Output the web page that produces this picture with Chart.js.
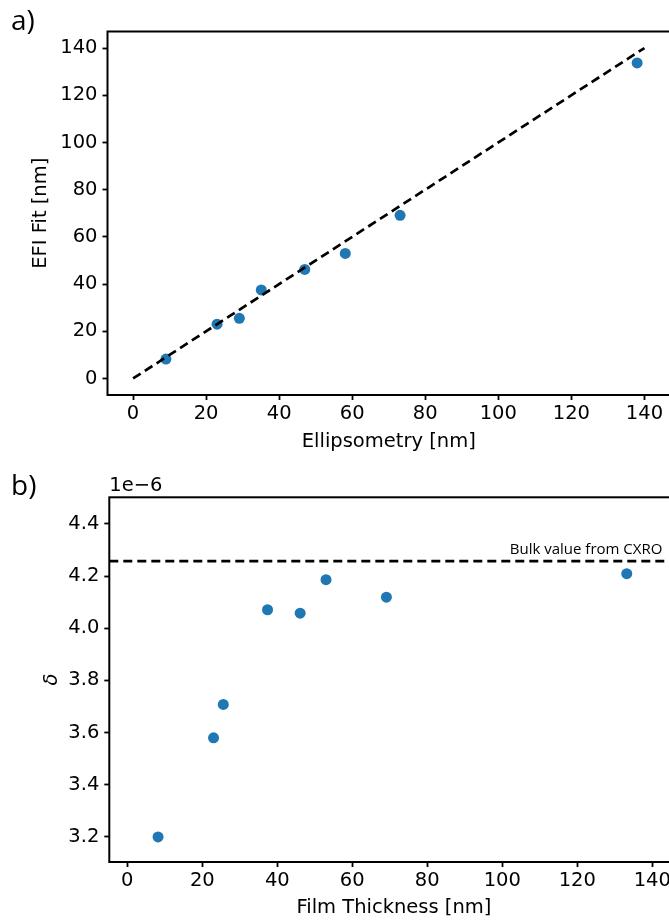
<!DOCTYPE html>
<html>
<head>
<meta charset="utf-8">
<script src="https://cdn.jsdelivr.net/npm/chart.js@4.4.1/dist/chart.umd.min.js"></script>
<style>
  html, body { margin: 0; padding: 0; background: #fff; overflow: hidden; }
  body { width: 669px; height: 923px; position: relative; }
  .panel { position: absolute; left: 0; width: 720px; }
  #wrapA { top: 0; height: 460px; }
  #wrapB { top: 460px; height: 463px; }
  .tag { position: absolute; left: 11px; font-family: "Open Sans", sans-serif; font-size: 28px; line-height: 1; color: #000; }
</style>
</head>
<body>
<div class="panel" id="wrapA"><canvas id="chartA" width="720" height="460"></canvas></div>
<div class="panel" id="wrapB"><canvas id="chartB" width="720" height="463"></canvas></div>
<div class="tag" style="top:5px">a)</div>
<div class="tag" style="top:470px">b)</div>
<script>
// a) thickness from ellipsometry vs EFI fit (nm)
const ellipsometry = [9.0, 23.0, 29.1, 35.1, 47.0, 58.1, 73.1, 138.0];
const efiFit = [8.2, 23.0, 25.5, 37.5, 46.2, 53.0, 69.1, 133.7];
const unityLine = [0, 140];
const xTicksA = [0, 20, 40, 60, 80, 100, 120, 140];
const yTicksA = [0, 20, 40, 60, 80, 100, 120, 140];

// b) delta (units of 1e-6) vs film thickness (nm)
const filmThickness = [8.2, 23.0, 25.6, 37.4, 46.1, 53.0, 69.1, 133.2];
const delta = [3.200, 3.580, 3.708, 4.071, 4.058, 4.186, 4.119, 4.209];
const bulkDelta = 4.257;
const xTicksB = [0, 20, 40, 60, 80, 100, 120, 140];
const yTicksB = [3.2, 3.4, 3.6, 3.8, 4.0, 4.2, 4.4];

Chart.defaults.font.family = '"DejaVu Sans", sans-serif';
Chart.defaults.color = '#000';

const BLUE = '#1f77b4';
const FS = 19.5;

// box round the plot area, like matplotlib spines
const frame = {
  id: 'frame',
  afterDatasetsDraw(chart) {
    const { ctx, chartArea: a } = chart;
    ctx.save();
    ctx.strokeStyle = '#000';
    ctx.lineWidth = 2;
    ctx.strokeRect(a.left, a.top, a.right - a.left, a.bottom - a.top);
    ctx.restore();
  }
};

function axis(min, max, ticks, fmt, title, titlePad, fitSize, horizontal, italic) {
  return {
    type: 'linear',
    min: min,
    max: max,
    afterBuildTicks: s => { s.ticks = ticks.map(v => ({ value: v })); },
    afterFit: s => { if (horizontal) s.height = fitSize; else s.width = fitSize; },
    grid: { drawOnChartArea: false, drawTicks: true, tickLength: 5, tickWidth: 1.8, tickColor: '#000' },
    border: { display: false },
    ticks: { color: '#000', font: { size: FS }, padding: horizontal ? 2 : 5, maxRotation: 0, autoSkip: false, callback: fmt },
    title: {
      display: true, text: title, color: '#000',
      font: { size: FS, style: italic ? 'italic' : 'normal' },
      padding: titlePad
    }
  };
}

// panel a
new Chart(document.getElementById('chartA'), {
  type: 'scatter',
  data: {
    datasets: [
      {
        type: 'line',
        data: unityLine.map(v => ({ x: v, y: v })),
        borderColor: '#000',
        borderWidth: 2.7,
        borderDash: [9, 5],
        pointRadius: 0,
        fill: false
      },
      {
        data: ellipsometry.map((v, i) => ({ x: v, y: efiFit[i] })),
        backgroundColor: BLUE,
        borderWidth: 0,
        pointRadius: 5.5
      }
    ]
  },
  options: {
    responsive: false,
    animation: false,
    layout: { padding: { top: 31.5, right: 50, bottom: 0, left: 0 } },
    plugins: { legend: { display: false }, tooltip: { enabled: false } },
    scales: {
      x: axis(-7, 147, xTicksA, v => v, 'Ellipsometry [nm]', { top: 0, bottom: 6 }, 65, true),
      y: axis(-7, 147, yTicksA, v => v, 'EFI Fit [nm]', { top: 29, bottom: 0 }, 107.5, false)
    }
  },
  plugins: [frame]
});

// panel b
const notes = {
  id: 'notes',
  afterDraw(chart) {
    const { ctx, chartArea: a, scales: { x, y } } = chart;
    ctx.save();
    ctx.fillStyle = '#000';
    ctx.font = FS + 'px "DejaVu Sans"';
    ctx.textBaseline = 'bottom';
    ctx.textAlign = 'left';
    ctx.fillText('1e\u22126', a.left, a.top - 2);
    ctx.font = '15px "Open Sans"';
    ctx.textAlign = 'right';
    ctx.textBaseline = 'alphabetic';
    ctx.fillText('Bulk value from CXRO', x.getPixelForValue(142.7), y.getPixelForValue(bulkDelta) - 7);
    ctx.restore();
  }
};

const xMinB = -4.8, xMaxB = 147;

new Chart(document.getElementById('chartB'), {
  type: 'scatter',
  data: {
    datasets: [
      {
        type: 'line',
        data: [{ x: xMinB, y: bulkDelta }, { x: xMaxB, y: bulkDelta }],
        borderColor: '#000',
        borderWidth: 2.7,
        borderDash: [9, 5],
        pointRadius: 0,
        fill: false
      },
      {
        data: filmThickness.map((v, i) => ({ x: v, y: delta[i] })),
        backgroundColor: BLUE,
        borderWidth: 0,
        pointRadius: 5.5
      }
    ]
  },
  options: {
    responsive: false,
    animation: false,
    layout: { padding: { top: 37.3, right: 41.5, bottom: 0, left: 0 } },
    plugins: { legend: { display: false }, tooltip: { enabled: false } },
    scales: {
      x: axis(xMinB, xMaxB, xTicksB, v => v, 'Film Thickness [nm]', { top: 0, bottom: 3 }, 61, true),
      y: axis(3.104, 4.502, yTicksB, v => v.toFixed(1), '\u03b4', { top: 40, bottom: 0 }, 109.3, false, true)
    }
  },
  plugins: [frame, notes]
});
</script>
</body>
</html>
